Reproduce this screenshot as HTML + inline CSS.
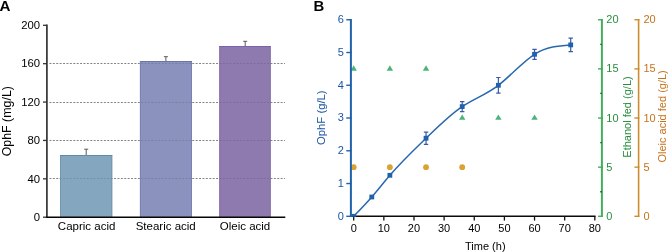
<!DOCTYPE html>
<html><head><meta charset="utf-8"><style>
html,body{margin:0;padding:0;background:#fff;}
svg{display:block;will-change:transform;}
text{font-family:"Liberation Sans", sans-serif;}
</style></head><body>
<svg width="669" height="252" viewBox="0 0 669 252">

<text x="-0.5" y="10.5" font-size="15.2" font-weight="bold" fill="#000">A</text>
<line x1="49.5" y1="63.50" x2="285" y2="63.50" stroke="#959595" stroke-width="1" stroke-dasharray="1.9 1.5"/>
<line x1="49.5" y1="102.50" x2="285" y2="102.50" stroke="#959595" stroke-width="1" stroke-dasharray="1.9 1.5"/>
<line x1="49.5" y1="140.50" x2="285" y2="140.50" stroke="#959595" stroke-width="1" stroke-dasharray="1.9 1.5"/>
<line x1="49.5" y1="178.50" x2="285" y2="178.50" stroke="#959595" stroke-width="1" stroke-dasharray="1.9 1.5"/>
<rect x="60.0" y="155.0" width="52.3" height="62.19999999999999" fill="#84a6be"/>
<path d="M60.5,217.2 V156.0 M111.8,156.0 V217.2" fill="none" stroke="#5f8aa8" stroke-width="1" opacity="0.55"/>
<path d="M60.0,155.5 H112.3" fill="none" stroke="#5f8aa8" stroke-width="1"/>
<path d="M86.2,155.0 V149.2 M84.2,149.2 H88.2" stroke="#5a5a5a" stroke-width="1" fill="none"/>
<rect x="139.9" y="61.0" width="52.099999999999994" height="156.2" fill="#8a92bd"/>
<path d="M140.4,217.2 V62.0 M191.5,62.0 V217.2" fill="none" stroke="#6c74ad" stroke-width="1" opacity="0.55"/>
<path d="M139.9,61.5 H192.0" fill="none" stroke="#6c74ad" stroke-width="1"/>
<path d="M165.9,61.0 V56.7 M163.9,56.7 H167.9" stroke="#5a5a5a" stroke-width="1" fill="none"/>
<rect x="219.2" y="46.0" width="51.60000000000002" height="171.2" fill="#8e7aaf"/>
<path d="M219.7,217.2 V47.0 M270.3,47.0 V217.2" fill="none" stroke="#7a63a8" stroke-width="1" opacity="0.55"/>
<path d="M219.2,46.5 H270.8" fill="none" stroke="#7a63a8" stroke-width="1"/>
<path d="M245.2,46.0 V41.3 M243.2,41.3 H247.2" stroke="#5a5a5a" stroke-width="1" fill="none"/>
<line x1="49.5" y1="63.50" x2="285" y2="63.50" stroke="#333" stroke-width="1" stroke-dasharray="1.9 1.5" opacity="0.18"/>
<line x1="49.5" y1="102.50" x2="285" y2="102.50" stroke="#333" stroke-width="1" stroke-dasharray="1.9 1.5" opacity="0.18"/>
<line x1="49.5" y1="140.50" x2="285" y2="140.50" stroke="#333" stroke-width="1" stroke-dasharray="1.9 1.5" opacity="0.18"/>
<line x1="49.5" y1="178.50" x2="285" y2="178.50" stroke="#333" stroke-width="1" stroke-dasharray="1.9 1.5" opacity="0.18"/>
<line x1="46.9" y1="24.6" x2="46.9" y2="217.2" stroke="#333" stroke-width="1.7"/>
<line x1="43" y1="25.30" x2="46.9" y2="25.30" stroke="#333" stroke-width="1.3"/>
<text x="40.0" y="29.10" font-size="11.3" text-anchor="end" fill="#000">200</text>
<line x1="43" y1="63.68" x2="46.9" y2="63.68" stroke="#333" stroke-width="1.3"/>
<text x="40.0" y="67.48" font-size="11.3" text-anchor="end" fill="#000">160</text>
<line x1="43" y1="102.06" x2="46.9" y2="102.06" stroke="#333" stroke-width="1.3"/>
<text x="40.0" y="105.86" font-size="11.3" text-anchor="end" fill="#000">120</text>
<line x1="43" y1="140.44" x2="46.9" y2="140.44" stroke="#333" stroke-width="1.3"/>
<text x="40.0" y="144.24" font-size="11.3" text-anchor="end" fill="#000">80</text>
<line x1="43" y1="178.82" x2="46.9" y2="178.82" stroke="#333" stroke-width="1.3"/>
<text x="40.0" y="182.62" font-size="11.3" text-anchor="end" fill="#000">40</text>
<line x1="43" y1="217.20" x2="46.9" y2="217.20" stroke="#333" stroke-width="1.3"/>
<text x="40.0" y="221.00" font-size="11.3" text-anchor="end" fill="#000">0</text>
<line x1="46.2" y1="217.2" x2="285.3" y2="217.2" stroke="#050505" stroke-width="1.35"/>
<text x="86.6" y="230.3" font-size="11.5" text-anchor="middle" fill="#000">Capric acid</text>
<text x="165.7" y="230.3" font-size="11.5" text-anchor="middle" fill="#000">Stearic acid</text>
<text x="245" y="230.3" font-size="11.5" text-anchor="middle" fill="#000">Oleic acid</text>
<text transform="translate(10.9,121.2) rotate(-90)" font-size="12.4" text-anchor="middle" fill="#000">OphF (mg/L)</text>
<text x="313.6" y="10.7" font-size="14.9" font-weight="bold" fill="#000">B</text>
<circle cx="353.70" cy="167.16" r="2.9" fill="#d9a232"/>
<circle cx="389.87" cy="167.16" r="2.9" fill="#d9a232"/>
<circle cx="426.04" cy="167.16" r="2.9" fill="#d9a232"/>
<circle cx="462.20" cy="167.16" r="2.9" fill="#d9a232"/>
<path d="M353.70,65.28 L356.90,70.68 L350.50,70.68 Z" fill="#4db37a"/>
<path d="M389.87,65.28 L393.07,70.68 L386.67,70.68 Z" fill="#4db37a"/>
<path d="M426.04,65.28 L429.24,70.68 L422.84,70.68 Z" fill="#4db37a"/>
<path d="M462.20,114.42 L465.40,119.82 L459.00,119.82 Z" fill="#4db37a"/>
<path d="M498.37,114.42 L501.57,119.82 L495.17,119.82 Z" fill="#4db37a"/>
<path d="M534.54,114.42 L537.74,119.82 L531.34,119.82 Z" fill="#4db37a"/>
<line x1="350" y1="216.3" x2="595.6" y2="216.3" stroke="#0a0a0a" stroke-width="1.4"/>
<line x1="353.70" y1="216.2" x2="353.70" y2="220.6" stroke="#111" stroke-width="1.3"/>
<text x="353.70" y="231.8" font-size="11" text-anchor="middle" fill="#000">0</text>
<line x1="383.84" y1="216.2" x2="383.84" y2="220.6" stroke="#111" stroke-width="1.3"/>
<text x="383.84" y="231.8" font-size="11" text-anchor="middle" fill="#000">10</text>
<line x1="413.98" y1="216.2" x2="413.98" y2="220.6" stroke="#111" stroke-width="1.3"/>
<text x="413.98" y="231.8" font-size="11" text-anchor="middle" fill="#000">20</text>
<line x1="444.12" y1="216.2" x2="444.12" y2="220.6" stroke="#111" stroke-width="1.3"/>
<text x="444.12" y="231.8" font-size="11" text-anchor="middle" fill="#000">30</text>
<line x1="474.26" y1="216.2" x2="474.26" y2="220.6" stroke="#111" stroke-width="1.3"/>
<text x="474.26" y="231.8" font-size="11" text-anchor="middle" fill="#000">40</text>
<line x1="504.40" y1="216.2" x2="504.40" y2="220.6" stroke="#111" stroke-width="1.3"/>
<text x="504.40" y="231.8" font-size="11" text-anchor="middle" fill="#000">50</text>
<line x1="534.54" y1="216.2" x2="534.54" y2="220.6" stroke="#111" stroke-width="1.3"/>
<text x="534.54" y="231.8" font-size="11" text-anchor="middle" fill="#000">60</text>
<line x1="564.68" y1="216.2" x2="564.68" y2="220.6" stroke="#111" stroke-width="1.3"/>
<text x="564.68" y="231.8" font-size="11" text-anchor="middle" fill="#000">70</text>
<line x1="594.82" y1="216.2" x2="594.82" y2="220.6" stroke="#111" stroke-width="1.3"/>
<text x="594.82" y="231.8" font-size="11" text-anchor="middle" fill="#000">80</text>
<text x="485.3" y="250.0" font-size="11" text-anchor="middle" fill="#000">Time (h)</text>
<defs><clipPath id="pc"><rect x="340" y="0" width="260" height="216.8"/></clipPath></defs>
<g clip-path="url(#pc)">
<path d="M353.70,216.30 C359.73,210.12 365.76,203.95 371.78,197.00 C377.81,190.05 383.84,182.34 389.87,175.30 C401.92,161.22 413.98,149.85 426.04,138.20 C438.09,126.55 450.15,114.62 462.20,106.60 C474.26,98.58 486.32,94.48 498.37,85.30 C510.43,76.12 522.48,61.88 534.54,54.30 C546.60,46.72 558.65,45.81 570.71,44.90" fill="none" stroke="#2868b0" stroke-width="1.5"/>
<rect x="351.30" y="213.90" width="4.8" height="4.8" fill="#1f62aa"/>
<rect x="369.38" y="194.60" width="4.8" height="4.8" fill="#1f62aa"/>
<rect x="387.47" y="172.90" width="4.8" height="4.8" fill="#1f62aa"/>
<path d="M426.04,132.05 V144.35 M423.84,132.05 H428.24 M423.84,144.35 H428.24" stroke="#3a5aa8" stroke-width="1.2" fill="none"/>
<rect x="423.64" y="135.80" width="4.8" height="4.8" fill="#1f62aa"/>
<path d="M462.20,101.60 V111.60 M460.00,101.60 H464.40 M460.00,111.60 H464.40" stroke="#3a5aa8" stroke-width="1.2" fill="none"/>
<rect x="459.80" y="104.20" width="4.8" height="4.8" fill="#1f62aa"/>
<path d="M498.37,77.50 V93.10 M496.17,77.50 H500.57 M496.17,93.10 H500.57" stroke="#3a5aa8" stroke-width="1.2" fill="none"/>
<rect x="495.97" y="82.90" width="4.8" height="4.8" fill="#1f62aa"/>
<path d="M534.54,49.30 V59.30 M532.34,49.30 H536.74 M532.34,59.30 H536.74" stroke="#3a5aa8" stroke-width="1.2" fill="none"/>
<rect x="532.14" y="51.90" width="4.8" height="4.8" fill="#1f62aa"/>
<path d="M570.71,38.10 V51.70 M568.51,38.10 H572.91 M568.51,51.70 H572.91" stroke="#3a5aa8" stroke-width="1.2" fill="none"/>
<rect x="568.31" y="42.50" width="4.8" height="4.8" fill="#1f62aa"/>
</g>
<line x1="350.9" y1="19.1" x2="350.9" y2="216.9" stroke="#1f62aa" stroke-width="2"/>
<line x1="346.3" y1="216.30" x2="351.5" y2="216.30" stroke="#1f62aa" stroke-width="1.4"/>
<text x="343.8" y="219.70" font-size="11" text-anchor="end" fill="#1b55a2">0</text>
<line x1="346.3" y1="183.54" x2="351.5" y2="183.54" stroke="#1f62aa" stroke-width="1.4"/>
<text x="343.8" y="186.94" font-size="11" text-anchor="end" fill="#1b55a2">1</text>
<line x1="346.3" y1="150.78" x2="351.5" y2="150.78" stroke="#1f62aa" stroke-width="1.4"/>
<text x="343.8" y="154.18" font-size="11" text-anchor="end" fill="#1b55a2">2</text>
<line x1="346.3" y1="118.02" x2="351.5" y2="118.02" stroke="#1f62aa" stroke-width="1.4"/>
<text x="343.8" y="121.42" font-size="11" text-anchor="end" fill="#1b55a2">3</text>
<line x1="346.3" y1="85.26" x2="351.5" y2="85.26" stroke="#1f62aa" stroke-width="1.4"/>
<text x="343.8" y="88.66" font-size="11" text-anchor="end" fill="#1b55a2">4</text>
<line x1="346.3" y1="52.50" x2="351.5" y2="52.50" stroke="#1f62aa" stroke-width="1.4"/>
<text x="343.8" y="55.90" font-size="11" text-anchor="end" fill="#1b55a2">5</text>
<line x1="346.3" y1="19.74" x2="351.5" y2="19.74" stroke="#1f62aa" stroke-width="1.4"/>
<text x="343.8" y="23.14" font-size="11" text-anchor="end" fill="#1b55a2">6</text>
<text transform="translate(324.8,117.7) rotate(-90)" font-size="11.3" text-anchor="middle" fill="#1b55a2">OphF (g/L)</text>
<line x1="601.9" y1="19" x2="601.9" y2="216.9" stroke="#43ae5c" stroke-width="2"/>
<line x1="598" y1="216.30" x2="602.9" y2="216.30" stroke="#43ae5c" stroke-width="1.4"/>
<text x="606.3" y="219.80" font-size="11" fill="#268f3c">0</text>
<line x1="598" y1="167.16" x2="602.9" y2="167.16" stroke="#43ae5c" stroke-width="1.4"/>
<text x="606.3" y="170.66" font-size="11" fill="#268f3c">5</text>
<line x1="598" y1="118.02" x2="602.9" y2="118.02" stroke="#43ae5c" stroke-width="1.4"/>
<text x="606.3" y="121.52" font-size="11" fill="#268f3c">10</text>
<line x1="598" y1="68.88" x2="602.9" y2="68.88" stroke="#43ae5c" stroke-width="1.4"/>
<text x="606.3" y="72.38" font-size="11" fill="#268f3c">15</text>
<line x1="598" y1="19.74" x2="602.9" y2="19.74" stroke="#43ae5c" stroke-width="1.4"/>
<text x="606.3" y="23.24" font-size="11" fill="#268f3c">20</text>
<line x1="600.2" y1="191.73" x2="601.9" y2="191.73" stroke="#1d6a33" stroke-width="1.3"/>
<line x1="600.2" y1="142.59" x2="601.9" y2="142.59" stroke="#1d6a33" stroke-width="1.3"/>
<line x1="600.2" y1="93.45" x2="601.9" y2="93.45" stroke="#1d6a33" stroke-width="1.3"/>
<line x1="600.2" y1="44.31" x2="601.9" y2="44.31" stroke="#1d6a33" stroke-width="1.3"/>
<text transform="translate(631.2,117) rotate(-90)" font-size="11" text-anchor="middle" fill="#268f3c">Ethanol fed (g/L)</text>
<line x1="638.6" y1="19" x2="638.6" y2="216.9" stroke="#cc8d2c" stroke-width="1.6"/>
<line x1="634.4" y1="216.30" x2="639.4" y2="216.30" stroke="#cc8d2c" stroke-width="1.4"/>
<text x="643.4" y="219.80" font-size="11" fill="#c6721c">0</text>
<line x1="634.4" y1="167.16" x2="639.4" y2="167.16" stroke="#cc8d2c" stroke-width="1.4"/>
<text x="643.4" y="170.66" font-size="11" fill="#c6721c">5</text>
<line x1="634.4" y1="118.02" x2="639.4" y2="118.02" stroke="#cc8d2c" stroke-width="1.4"/>
<text x="643.4" y="121.52" font-size="11" fill="#c6721c">10</text>
<line x1="634.4" y1="68.88" x2="639.4" y2="68.88" stroke="#cc8d2c" stroke-width="1.4"/>
<text x="643.4" y="72.38" font-size="11" fill="#c6721c">15</text>
<line x1="634.4" y1="19.74" x2="639.4" y2="19.74" stroke="#cc8d2c" stroke-width="1.4"/>
<text x="643.4" y="23.24" font-size="11" fill="#c6721c">20</text>
<text transform="translate(666.2,116.4) rotate(-90)" font-size="11" text-anchor="middle" fill="#c6721c">Oleic acid fed (g/L)</text>
</svg>
</body></html>
